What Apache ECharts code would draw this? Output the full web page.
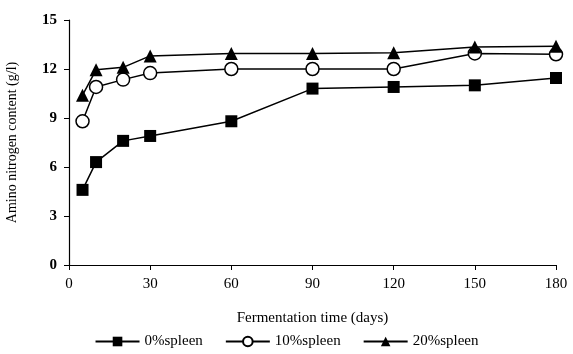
<!DOCTYPE html>
<html>
<head>
<meta charset="utf-8">
<script src="https://cdn.jsdelivr.net/npm/echarts@6/dist/echarts.min.js"></script>
<style>
  html, body { margin: 0; padding: 0; background: #fff; }
  #myChart { width: 573px; height: 354px; }
</style>
</head>
<body>
<div id="myChart"></div>
<script>
// 数据：发酵天数与氨基氮含量
var days = [5, 10, 20, 30, 60, 90, 120, 150, 180];
var spleen0 = [4.6, 6.3, 7.6, 7.9, 8.8, 10.8, 10.9, 11.0, 11.45];
var spleen10 = [8.8, 10.9, 11.35, 11.75, 12.0, 12.0, 12.0, 12.95, 12.9];
var spleen20 = [10.4, 11.95, 12.1, 12.8, 12.95, 12.95, 13.0, 13.35, 13.4];
var seriesNames = ['0%spleen', '10%spleen', '20%spleen'];

function pairs(vals) {
    return days.map(function (d, i) { return [d, vals[i]]; });
}

var font = 'Liberation Serif';
var myChart = echarts.init(document.getElementById('myChart'));

var lineStyle = { color: '#000', width: 1.5 };

myChart.setOption({
    animation: false,
    textStyle: { fontFamily: font, color: '#000' },
    grid: { left: 69, right: 17, top: 20, bottom: 89, containLabel: false, outerBoundsMode: 'none' },
    legend: {
        data: seriesNames,
        bottom: 0,
        left: 'center',
        itemWidth: 44,
        itemHeight: 12,
        itemGap: 22,
        textStyle: { fontFamily: font, fontSize: 15, color: '#000' }
    },
    xAxis: {
        type: 'value',
        min: 0, max: 180, interval: 30,
        name: 'Fermentation time (days)',
        nameLocation: 'middle',
        nameGap: 46,
        nameTextStyle: { fontFamily: font, fontSize: 15, color: '#000' },
        axisLine: { lineStyle: { color: '#000', width: 1.2 } },
        axisTick: { length: 5, lineStyle: { color: '#000' } },
        axisLabel: { fontFamily: font, fontSize: 15, color: '#000', margin: 12 },
        splitLine: { show: false }
    },
    yAxis: {
        type: 'value',
        min: 0, max: 15, interval: 3,
        name: 'Amino nitrogen content (g/l)',
        nameLocation: 'middle',
        nameGap: 50,
        nameTextStyle: { fontFamily: font, fontSize: 14, color: '#000' },
        axisLine: { show: true, lineStyle: { color: '#000', width: 1.2 } },
        axisTick: { show: true, length: 5, lineStyle: { color: '#000' } },
        axisLabel: { fontFamily: font, fontSize: 15, color: '#000', margin: 12, fontWeight: 'bold' },
        splitLine: { show: false }
    },
    series: [
        {
            name: seriesNames[0], type: 'line',
            data: pairs(spleen0),
            symbol: 'rect', symbolSize: 12,
            itemStyle: { color: '#000' },
            lineStyle: lineStyle
        },
        {
            name: seriesNames[1], type: 'line',
            data: pairs(spleen10),
            symbol: 'circle', symbolSize: 13,
            itemStyle: { color: '#fff', borderColor: '#000', borderWidth: 1.5 },
            lineStyle: lineStyle
        },
        {
            name: seriesNames[2], type: 'line',
            data: pairs(spleen20),
            symbol: 'triangle', symbolSize: 13,
            itemStyle: { color: '#000' },
            lineStyle: lineStyle
        }
    ]
});
</script>
</body>
</html>
